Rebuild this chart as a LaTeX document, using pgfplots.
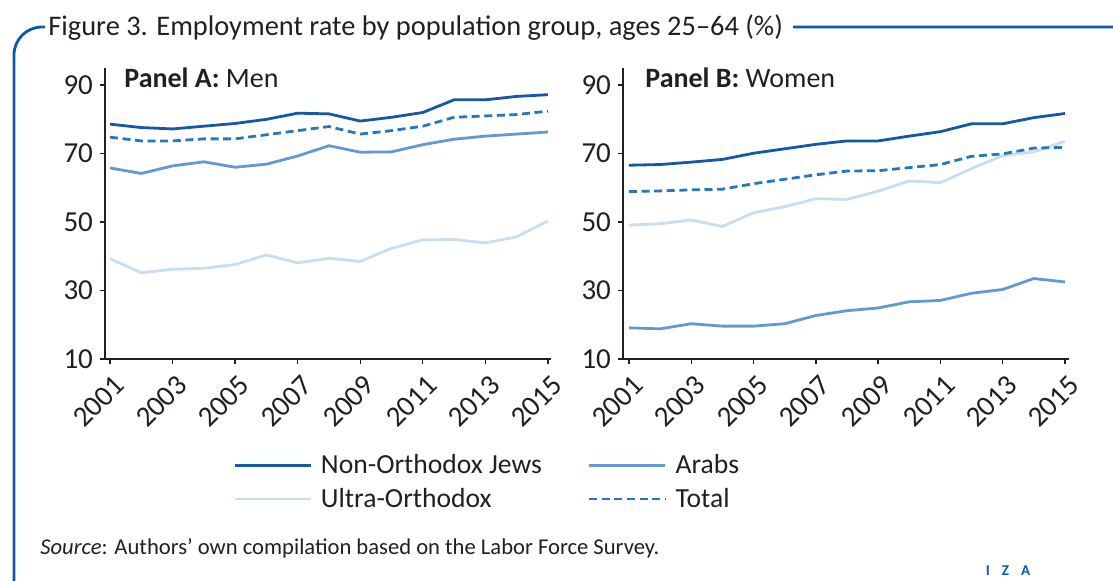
\documentclass[border=0pt]{standalone}
\usepackage{fontspec}
\setmainfont{Carlito}
\usepackage{pgfplots}
\pgfplotsset{compat=1.18}

\definecolor{nojblue}{RGB}{22,88,166}
\definecolor{arabblue}{RGB}{98,153,208}
\definecolor{uoblue}{RGB}{200,222,240}
\definecolor{totblue}{RGB}{38,118,192}
\definecolor{frameblue}{RGB}{10,90,168}
\definecolor{txt}{RGB}{35,31,32}

\pgfplotsset{
  panel/.style={
    scale only axis,
    width=223pt, height=145.5pt,
    ymin=10, ymax=95,
    axis lines=left,
    axis line style={-, draw=txt, line width=0.7pt},
    tick style={draw=txt, line width=0.7pt},
    major tick length=2.5pt,
    tick align=outside,
    xtick={2001,2003,...,2015},
    ytick={10,30,50,70,90},
    /pgf/number format/assume math mode=true,
    /pgf/number format/1000 sep={},
    tick label style={font=\fontsize{14.5}{16}\selectfont, text=txt},
    x tick label style={rotate=45, anchor=north east, xshift=1pt, yshift=-1pt},
  },
  noj/.style={nojblue, line width=1.4pt},
  arab/.style={arabblue, line width=1.4pt},
  uo/.style={uoblue, line width=1.4pt},
  tot/.style={totblue, line width=1.4pt, dash pattern=on 4pt off 2.3pt},
}

\begin{document}
\begin{tikzpicture}[x=0.5pt, y=-0.5pt]
\useasboundingbox (0,0) rectangle (1113,581);

% frame and title
\draw[frameblue, line width=1.4pt, rounded corners=14pt]
  (45,27) -- (14,27) -- (14,640) -- (1150,640) -- (1150,27) -- (793,27);
\node[anchor=west, inner sep=0, text=txt, font=\fontsize{14.2}{16}\selectfont]
  at (48,28) {Figure 3. Employment rate by population group, ages 25--64 (\%)};

% Panel A: men
\begin{axis}[panel, at={(52.5pt,-179.5pt)}, anchor=south west,
  xmin=2000.84, xmax=2015.1,
  legend columns=2,
  legend cell align=left,
  legend style={draw=none, fill=none, at={(0.273,-0.30)}, anchor=north west,
    font=\fontsize{13.8}{15}\selectfont, text=txt,
    /tikz/every odd column/.append style={column sep=2.5pt},
    /tikz/column 2/.style={column sep=21pt},
    row sep=1.5pt},
  legend image code/.code={\draw[#1] (0pt,0pt) -- (38pt,0pt);},
]
\addplot[noj] coordinates {(2001,78.6) (2002,77.6) (2003,77.2) (2004,78.0) (2005,78.8) (2006,80.0) (2007,81.8) (2008,81.6) (2009,79.5) (2010,80.6) (2011,82.0) (2012,85.7) (2013,85.7) (2014,86.7) (2015,87.2)};
\addplot[arab] coordinates {(2001,65.8) (2002,64.2) (2003,66.4) (2004,67.6) (2005,66.0) (2006,66.9) (2007,69.3) (2008,72.3) (2009,70.4) (2010,70.5) (2011,72.6) (2012,74.2) (2013,75.1) (2014,75.7) (2015,76.3)};
\addplot[uo] coordinates {(2001,39.3) (2002,35.2) (2003,36.2) (2004,36.5) (2005,37.6) (2006,40.4) (2007,38.1) (2008,39.4) (2009,38.5) (2010,42.3) (2011,44.8) (2012,44.9) (2013,43.9) (2014,45.7) (2015,50.3)};
\addplot[tot] coordinates {(2001,74.8) (2002,73.7) (2003,73.7) (2004,74.3) (2005,74.3) (2006,75.5) (2007,76.7) (2008,77.9) (2009,75.7) (2010,76.7) (2011,78.0) (2012,80.6) (2013,81.0) (2014,81.4) (2015,82.4)};
\legend{Non-Orthodox Jews, Arabs, Ultra-Orthodox, Total}
\end{axis}

% Panel B: women
\begin{axis}[panel, at={(311.5pt,-179.5pt)}, anchor=south west,
  xmin=2000.81, xmax=2015.13]
\addplot[uo] coordinates {(2001,49.1) (2002,49.5) (2003,50.6) (2004,48.7) (2005,52.7) (2006,54.5) (2007,56.8) (2008,56.6) (2009,59.0) (2010,62.0) (2011,61.5) (2012,65.6) (2013,69.4) (2014,70.5) (2015,73.6)};
\addplot[arab] coordinates {(2001,19.1) (2002,18.8) (2003,20.3) (2004,19.6) (2005,19.6) (2006,20.3) (2007,22.7) (2008,24.1) (2009,24.9) (2010,26.7) (2011,27.1) (2012,29.2) (2013,30.3) (2014,33.5) (2015,32.5)};
\addplot[tot] coordinates {(2001,58.9) (2002,59.1) (2003,59.4) (2004,59.6) (2005,61.2) (2006,62.5) (2007,63.8) (2008,64.9) (2009,65.0) (2010,65.9) (2011,66.8) (2012,69.2) (2013,69.9) (2014,71.6) (2015,71.8)};
\addplot[noj] coordinates {(2001,66.6) (2002,66.8) (2003,67.5) (2004,68.3) (2005,70.1) (2006,71.4) (2007,72.7) (2008,73.7) (2009,73.7) (2010,75.1) (2011,76.4) (2012,78.7) (2013,78.7) (2014,80.5) (2015,81.7)};
\end{axis}

% panel labels
\node[anchor=west, inner sep=0, text=txt, font=\fontsize{14}{16}\selectfont]
  at (124,78) {\textbf{Panel A:} Men};
\node[anchor=west, inner sep=0, text=txt, font=\fontsize{14}{16}\selectfont]
  at (645,78) {\textbf{Panel B:} Women};

% source and logo
\node[anchor=west, inner sep=0, text=txt, font=\fontsize{11.3}{13}\selectfont]
  at (40,548) {\textit{Source}: Authors’ own compilation based on the Labor Force Survey.};
\node[inner sep=0, text=frameblue, font=\fontsize{7.5}{9}\selectfont\bfseries]
  at (1008,571) {I\hspace{6pt}Z\hspace{6pt}A};
\end{tikzpicture}
\end{document}
